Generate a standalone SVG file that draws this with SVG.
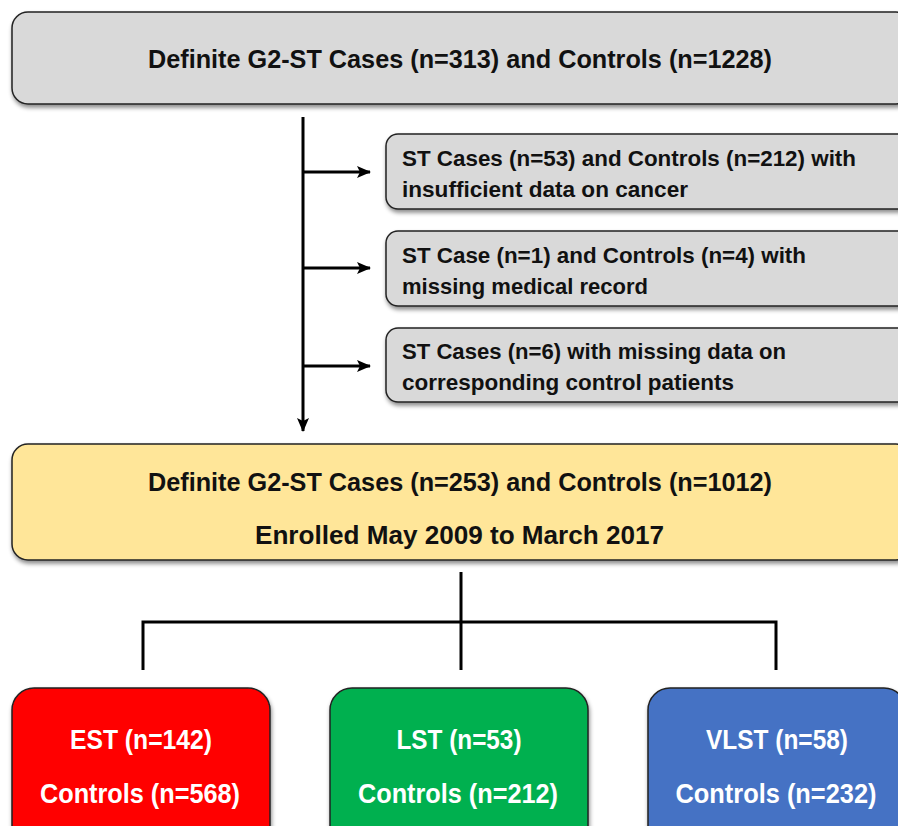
<svg xmlns="http://www.w3.org/2000/svg" width="898" height="826" viewBox="0 0 898 826">
<defs>
<filter id="sh" x="-5%" y="-5%" width="110%" height="120%">
<feDropShadow dx="1" dy="3" stdDeviation="2" flood-color="#000" flood-opacity="0.45"/>
</filter>
<marker id="ah" markerWidth="14" markerHeight="14" refX="13" refY="7" orient="auto" markerUnits="userSpaceOnUse">
<path d="M0,1 L14,7 L0,13 L3,7 Z" fill="#000"/>
</marker>
<style>
.box{stroke:#222;stroke-width:1.5;filter:url(#sh);}
.t{font-family:"Liberation Sans",Arial,sans-serif;font-weight:bold;fill:#111;}
.w{font-family:"Liberation Sans",Arial,sans-serif;font-weight:bold;fill:#fff;font-size:28px;text-anchor:middle;}
.c{stroke:#000;stroke-width:3;fill:none;}
</style>
</defs>
<rect width="898" height="826" fill="#fff"/>
<g id="top">
<rect class="box" x="12" y="12" width="900" height="92" rx="16" fill="#d9d9d9"/>
<text class="t" x="148" y="68" font-size="26" textLength="624" lengthAdjust="spacingAndGlyphs">Definite G2-ST Cases (n=313) and Controls (n=1228)</text>
</g>
<g id="ex1">
<rect class="box" x="386" y="134" width="530" height="75" rx="12" fill="#d9d9d9"/>
<text class="t" x="402" y="166" font-size="22" textLength="454" lengthAdjust="spacingAndGlyphs">ST Cases (n=53) and Controls (n=212) with</text>
<text class="t" x="402" y="197" font-size="22" textLength="286" lengthAdjust="spacingAndGlyphs">insufficient data on cancer</text>
</g>
<g id="ex2">
<rect class="box" x="386" y="231" width="530" height="75" rx="12" fill="#d9d9d9"/>
<text class="t" x="402" y="263" font-size="22" textLength="404" lengthAdjust="spacingAndGlyphs">ST Case (n=1) and Controls (n=4) with</text>
<text class="t" x="402" y="294" font-size="22" textLength="246" lengthAdjust="spacingAndGlyphs">missing medical record</text>
</g>
<g id="ex3">
<rect class="box" x="386" y="328" width="530" height="74" rx="12" fill="#d9d9d9"/>
<text class="t" x="402" y="359" font-size="22" textLength="384" lengthAdjust="spacingAndGlyphs">ST Cases (n=6) with missing data on</text>
<text class="t" x="402" y="390" font-size="22" textLength="332" lengthAdjust="spacingAndGlyphs">corresponding control patients</text>
</g>
<g id="mid">
<rect class="box" x="12" y="444" width="900" height="116" rx="16" fill="#ffe699"/>
<text class="t" x="148" y="491" font-size="26" textLength="624" lengthAdjust="spacingAndGlyphs">Definite G2-ST Cases (n=253) and Controls (n=1012)</text>
<text class="t" x="255" y="544" font-size="26" textLength="409" lengthAdjust="spacingAndGlyphs">Enrolled May 2009 to March 2017</text>
</g>
<g id="est">
<rect class="box" x="12" y="688" width="258" height="160" rx="22" fill="#ff0000"/>
<text class="w" x="141" y="749" textLength="142" lengthAdjust="spacingAndGlyphs">EST (n=142)</text>
<text class="w" x="140" y="803" textLength="200" lengthAdjust="spacingAndGlyphs">Controls (n=568)</text>
</g>
<g id="lst">
<rect class="box" x="330" y="688" width="258" height="160" rx="22" fill="#00b050"/>
<text class="w" x="459" y="749" textLength="125" lengthAdjust="spacingAndGlyphs">LST (n=53)</text>
<text class="w" x="458" y="803" textLength="200" lengthAdjust="spacingAndGlyphs">Controls (n=212)</text>
</g>
<g id="vlst">
<rect class="box" x="648" y="688" width="258" height="160" rx="22" fill="#4472c4"/>
<text class="w" x="777" y="749" textLength="142" lengthAdjust="spacingAndGlyphs">VLST (n=58)</text>
<text class="w" x="776" y="803" textLength="201" lengthAdjust="spacingAndGlyphs">Controls (n=232)</text>
</g>
<g id="connectors">
<line class="c" x1="303" y1="117" x2="303" y2="431" marker-end="url(#ah)"/>
<line class="c" x1="303" y1="172" x2="370" y2="172" marker-end="url(#ah)"/>
<line class="c" x1="303" y1="268" x2="370" y2="268" marker-end="url(#ah)"/>
<line class="c" x1="303" y1="366" x2="370" y2="366" marker-end="url(#ah)"/>
<line class="c" x1="461" y1="572" x2="461" y2="670"/>
<polyline class="c" points="143,670 143,622 776,622 776,670"/>
</g>
</svg>
